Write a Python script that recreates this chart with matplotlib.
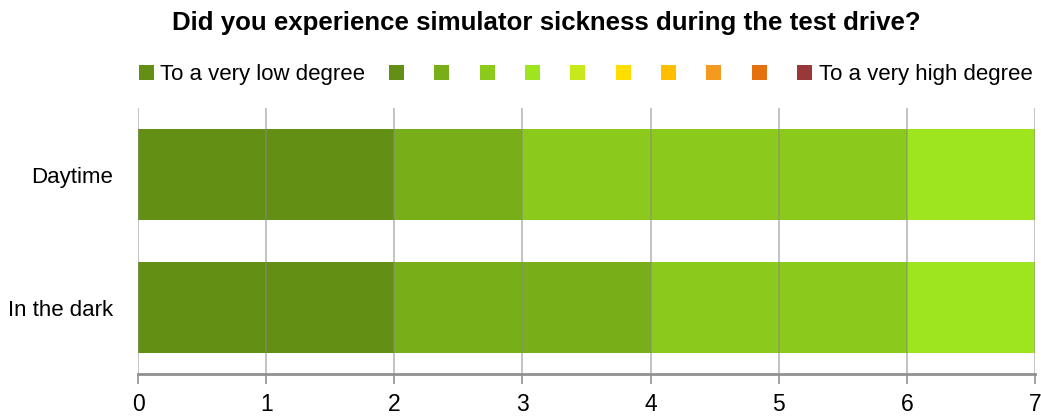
import matplotlib
matplotlib.use("Agg")
import matplotlib.pyplot as plt
from matplotlib.patches import Patch
import numpy as np

title = "Did you experience simulator sickness during the test drive?"
categories = ["Daytime", "In the dark"]
level_labels = ["To a very low degree", "", "", "", "", "", "", "", "", "", "To a very high degree"]
level_colors = ["#638F14", "#638F14", "#78AE17", "#8BC91A", "#9EE51F", "#C9E81A",
                "#FFDE00", "#FFBF00", "#F39A1F", "#E5700E", "#983838"]
daytime = [2, 0, 1, 3, 1, 0, 0, 0, 0, 0, 0]
in_the_dark = [2, 0, 2, 2, 1, 0, 0, 0, 0, 0, 0]
x_ticks = [0, 1, 2, 3, 4, 5, 6, 7]

font = ["Liberation Sans", "DejaVu Sans"]
plt.rcParams['font.family'] = font

fig = plt.figure(figsize=(10.41, 4.16), dpi=100)
ax = fig.add_axes([0.1326, 0.101, 0.8616, 0.639])

data = np.array([daytime, in_the_dark])
y = np.arange(len(categories))
left = np.zeros(len(categories))
for i in range(len(level_labels)):
    ax.barh(y, data[:, i], left=left, height=0.68, color=level_colors[i], zorder=2)
    left += data[:, i]

ax.set_ylim(len(categories) - 0.5, -0.5)
ax.set_xlim(0, 7)
ax.set_xticks(x_ticks)
ax.set_xticklabels([str(t) for t in x_ticks], fontsize=16.5)
ax.set_yticks(y)
ax.set_yticklabels(categories, fontsize=16)
ax.tick_params(axis='y', length=0, pad=18)
ax.tick_params(axis='x', length=7, width=1.2, color="#909090", direction='out', pad=7)
for s in ["top", "right", "left"]:
    ax.spines[s].set_visible(False)
ax.spines["bottom"].set_color("#909090")
ax.spines["bottom"].set_linewidth(2)
ax.xaxis.grid(True, color="#8a8a8a", linewidth=1.3, alpha=0.55, zorder=3)
ax.set_axisbelow(False)

handles = [Patch(facecolor=c, edgecolor='none') for c in level_colors]
fig.legend(handles, level_labels, loc='center', bbox_to_anchor=(0.5625, 0.82), ncol=11,
           frameon=False, fontsize=16, handlelength=0.68, handleheight=0.68,
           handletextpad=0.3, columnspacing=1.06)

fig.text(0.5245, 0.945, title, ha='center', va='center', fontsize=18.6, fontweight='bold')

fig.savefig("out.png", dpi=100)
